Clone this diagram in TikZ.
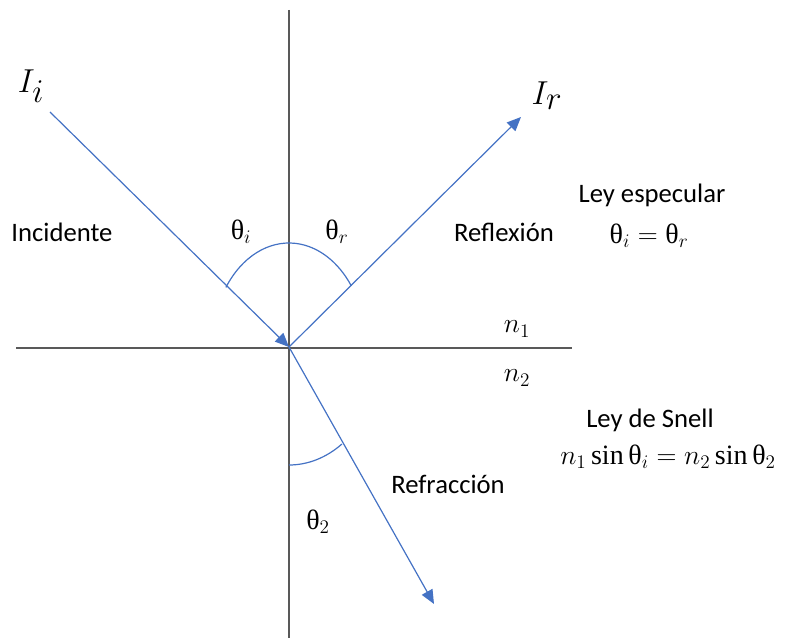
\documentclass[tikz,border=0pt]{standalone}
\usepackage{fontspec}
\setmainfont{Carlito}
\newfontfamily\grk{Liberation Serif}
\usetikzlibrary{arrows.meta}
\newcommand{\thv}{\mbox{\grk θ}}
\newcommand{\snop}{\mathop{\mbox{\grk sin}}\nolimits}
\definecolor{rayblue}{HTML}{4472C4}
\definecolor{axisgray}{HTML}{595959}
\tikzset{
  axisline/.style={draw=axisgray, line width=1.1pt},
  rayline/.style={draw=rayblue, line width=0.9pt, -{Triangle[length=10.5pt,width=9pt]}},
  anglearc/.style={draw=rayblue, line width=0.9pt},
  lbl/.style={inner sep=0pt, font=\fontsize{20}{24}\selectfont},
  mlbl/.style={inner sep=0pt, font=\fontsize{21}{25}\selectfont},
  biglbl/.style={inner sep=0pt, font=\fontsize{37}{42}\selectfont},
}
\begin{document}
\begin{tikzpicture}[x=0.75pt,y=-0.75pt]
\useasboundingbox (0,0) rectangle (786,638);
\coordinate (O) at (289,347);
\coordinate (vt) at (289,10);
\coordinate (vb) at (289,638);
\coordinate (hl) at (16,348);
\coordinate (hr) at (572,348);
\coordinate (A) at (50,112);
\coordinate (R) at (521,117);
\coordinate (T) at (434,604);
\draw[axisline] (vt) -- (vb);
\draw[axisline] (hl) -- (hr);
\draw[rayline] (A) -- (O);
\draw[rayline] (O) -- (R);
\draw[rayline] (O) -- (T);
\draw[anglearc] (O) ++(215:77 and 104) arc[start angle=215, end angle=324, x radius=77, y radius=104];
\draw[anglearc] (O) ++(55.3:93 and 118) arc[start angle=55.3, end angle=90, x radius=93, y radius=118];
\node[biglbl] (Ii) at (31,86) {$I_i$};
\node[biglbl] (Ir) at (547,96) {$I_r$};
\node[mlbl] (thi) at (241,232) {$\thv_i$};
\node[mlbl] (thr) at (337,232) {$\thv_r$};
\node[lbl] (inc) at (62,232) {Incidente};
\node[lbl] (refl) at (504,232) {Reflexión};
\node[lbl] (ley1) at (652,195) {Ley especular};
\node[mlbl] (eq1) at (649,236) {$\thv_i = \thv_r$};
\node[mlbl] (n1) at (517,329) {$n_1$};
\node[mlbl] (n2) at (517,378) {$n_2$};
\node[lbl] (ley2) at (650,420) {Ley de Snell};
\node[mlbl] (eq2) at (668,457) {$n_1 \snop \thv_i = n_2 \snop \thv_2$};
\node[lbl] (refr) at (448,484) {Refracción};
\node[mlbl] (th2) at (318,522) {$\thv_2$};
\end{tikzpicture}
\end{document}
